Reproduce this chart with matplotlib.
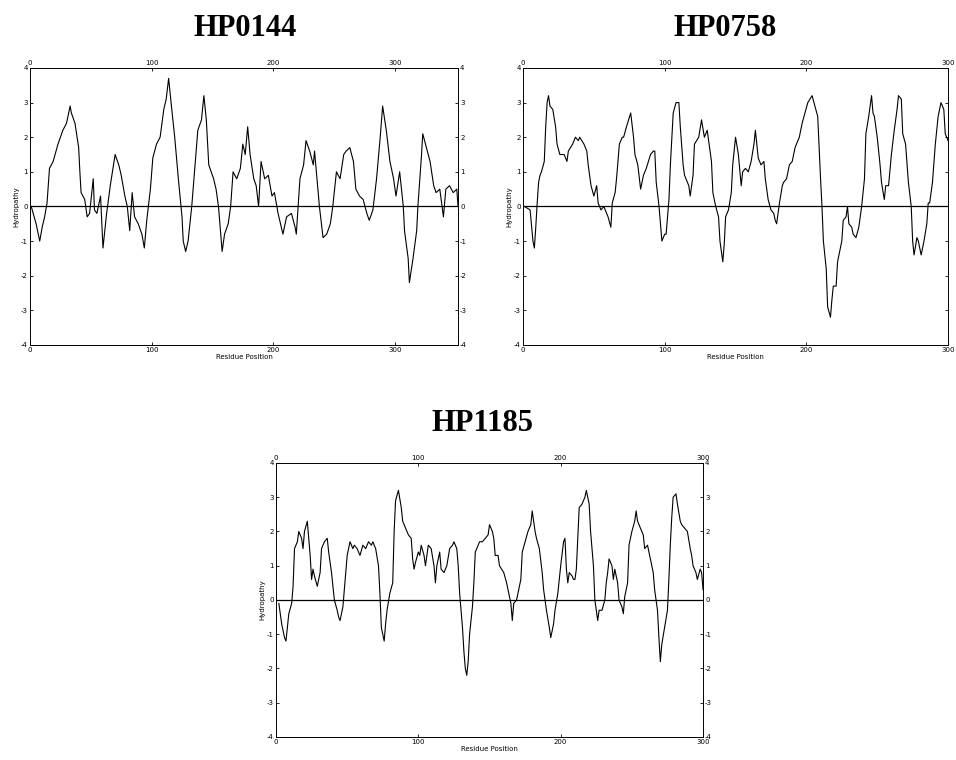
import numpy as np
import matplotlib
matplotlib.use("Agg")
import matplotlib.pyplot as plt

plt.rcParams['axes.unicode_minus'] = False

# HP0144 hydropathy profile (residue, value)
hp0144_res = [1, 5, 8, 10, 12, 14, 16, 19, 23, 27, 30, 33, 34, 37, 40, 41, 42, 45, 47, 49,
              52, 53, 55, 58, 60, 63, 66, 70, 73, 75, 78, 80, 82, 84, 86, 89, 92, 94, 96, 99,
              101, 104, 107, 110, 112, 114, 116, 119, 122, 125, 126, 128, 130, 133, 136, 138,
              141, 143, 145, 147, 151, 153, 155, 158, 160, 163, 165, 167, 170, 173, 175, 177,
              179, 181, 184, 186, 188, 190, 193, 196, 199, 201, 204, 208, 211, 215, 218, 219,
              222, 225, 227, 230, 233, 234, 236, 238, 241, 244, 247, 249, 252, 255, 258, 260,
              263, 266, 268, 271, 274, 277, 279, 282, 285, 288, 290, 293, 296, 299, 301, 304,
              307, 308, 311, 312, 315, 318, 319, 322, 323, 326, 329, 332, 334, 337, 340, 342,
              345, 348, 351, 352]
hp0144_val = [0.0, -0.5, -1.0, -0.6, -0.3, 0.1, 1.1, 1.3, 1.8, 2.2, 2.4, 2.9, 2.7, 2.4, 1.7, 1.0, 0.4, 0.2, -0.3, -0.2,
              0.8, -0.1, -0.2, 0.3, -1.2, -0.2, 0.6, 1.5, 1.2, 0.9, 0.3, 0.0, -0.7, 0.4, -0.3, -0.5, -0.8, -1.2, -0.4, 0.5,
              1.4, 1.8, 2.0, 2.8, 3.1, 3.7, 3.0, 2.0, 0.8, -0.3, -1.0, -1.3, -1.0, 0.0, 1.3, 2.2,
              2.5, 3.2, 2.5, 1.2, 0.8, 0.5, 0.0, -1.3, -0.8, -0.5, 0.0, 1.0, 0.8, 1.1, 1.8, 1.5,
              2.3, 1.5, 0.8, 0.6, 0.0, 1.3, 0.8, 0.9, 0.3, 0.4, -0.2, -0.8, -0.3, -0.2, -0.6, -0.8,
              0.8, 1.2, 1.9, 1.6, 1.2, 1.6, 0.8, 0.0, -0.9, -0.8, -0.5, 0.0, 1.0, 0.8, 1.5, 1.6,
              1.7, 1.3, 0.5, 0.3, 0.2, -0.2, -0.4, -0.1, 0.8, 2.0, 2.9, 2.2, 1.3, 0.8, 0.3, 1.0,
              0.0, -0.7, -1.5, -2.2, -1.5, -0.7, 0.0, 1.5, 2.1, 1.7, 1.3, 0.6, 0.4, 0.5, -0.3, 0.5,
              0.6, 0.4, 0.5, 0.0]

# HP0758
hp0758_res = [1, 5, 7, 8, 9, 10, 11, 12, 13, 15, 16, 17, 18, 19, 21, 23, 24, 26, 29, 31,
              32, 35, 37, 39, 40, 43, 45, 46, 48, 50, 52, 53, 55, 57, 59, 60, 62, 63, 65, 66,
              68, 70, 71, 73, 76, 78, 79, 81, 83, 85, 87, 90, 92, 93, 94, 96, 98, 100, 101, 103,
              104, 106, 108, 110, 111, 113, 114, 117, 118, 120, 121, 124, 126, 128, 130, 132, 133, 134,
              136, 138, 139, 141, 142, 143, 145, 147, 148, 150, 152, 154, 155, 157, 159, 161, 163,
              164, 166, 168, 170, 171, 173, 175, 177, 178, 179, 181, 183, 184, 186, 188, 190, 192,
              195, 197, 199, 201, 204, 206, 208, 210, 211, 212, 214, 215, 217, 218, 219, 221, 222,
              225, 226, 228, 229, 230, 232, 233, 235, 237, 239, 241, 242, 244, 246, 247, 248, 250,
              252, 253, 255, 256, 258, 260, 262, 264, 265, 267, 268, 270, 272, 274, 275, 276, 278,
              279, 281, 283, 285, 286, 287, 289, 291, 293, 295, 297, 298, 300]
hp0758_val = [0.0, -0.1, -1.0, -1.2, -0.6, 0.1, 0.7, 0.9, 1.0, 1.3, 2.3, 3.0, 3.2, 2.9, 2.8, 2.3, 1.8, 1.5, 1.5, 1.3,
              1.6, 1.8, 2.0, 1.9, 2.0, 1.8, 1.6, 1.2, 0.6, 0.3, 0.6, 0.1, -0.1, 0.0, -0.2, -0.3, -0.6, 0.1, 0.4, 0.8,
              1.8, 2.0, 2.0, 2.3, 2.7, 2.0, 1.5, 1.2, 0.5, 0.9, 1.1, 1.5, 1.6, 1.6, 0.7, 0.0, -1.0, -0.8, -0.8, 0.2,
              1.2, 2.7, 3.0, 3.0, 2.3, 1.2, 0.9, 0.6, 0.3, 0.9, 1.8, 2.0, 2.5, 2.0, 2.2, 1.6, 1.3, 0.4,
              0.0, -0.3, -1.0, -1.6, -1.1, -0.3, -0.1, 0.4, 1.2, 2.0, 1.5, 0.6, 1.0, 1.1, 1.0, 1.3, 1.8,
              2.2, 1.4, 1.2, 1.3, 0.8, 0.2, -0.1, -0.2, -0.4, -0.5, 0.1, 0.6, 0.7, 0.8, 1.2, 1.3, 1.7,
              2.0, 2.4, 2.7, 3.0, 3.2, 2.9, 2.6, 0.8, 0.0, -1.0, -1.8, -2.9, -3.2, -2.7, -2.3, -2.3, -1.6,
              -1.0, -0.4, -0.3, 0.0, -0.5, -0.6, -0.8, -0.9, -0.6, 0.0, 0.8, 2.1, 2.6, 3.2, 2.7, 2.6, 2.0,
              1.2, 0.7, 0.2, 0.6, 0.6, 1.5, 2.2, 2.8, 3.2, 3.1, 2.1, 1.8, 0.7, 0.0, -1.0, -1.4, -0.9,
              -1.0, -1.4, -1.0, -0.5, 0.1, 0.1, 0.7, 1.8, 2.6, 3.0, 2.8, 2.1, 1.9]

# HP1185
hp1185_res = [2, 4, 6, 7, 9, 11, 12, 13, 15, 16, 18, 19, 20, 22, 23, 24, 25, 26, 27, 29,
              31, 32, 34, 36, 37, 39, 41, 43, 44, 45, 47, 48, 50, 52, 54, 55, 57, 59, 61, 63,
              65, 67, 68, 70, 72, 73, 74, 76, 77, 78, 80, 82, 83, 84, 86, 88, 89, 91, 93, 95,
              96, 97, 98, 100, 101, 102, 104, 105, 107, 109, 111, 112, 113, 115, 116, 118, 120, 122,
              124, 125, 127, 128, 129, 131, 132, 133, 134, 135, 136, 138, 139, 140, 142, 143, 145,
              147, 149, 150, 152, 153, 154, 156, 157, 160, 162, 163, 165, 166, 167, 169, 172, 173,
              175, 177, 179, 180, 182, 183, 185, 187, 188, 190, 192, 193, 195, 196, 198, 200, 202,
              203, 204, 205, 206, 208, 209, 210, 211, 213, 215, 217, 218, 220, 221, 223, 224, 226,
              227, 229, 231, 232, 233, 234, 236, 237, 238, 240, 241, 242, 243, 244, 245, 247, 248,
              250, 252, 253, 254, 256, 258, 259, 261, 263, 265, 266, 268, 269, 270, 271, 273, 275,
              276, 277, 278, 279, 281, 282, 284, 285, 287, 289, 291, 292, 293, 295, 296, 298, 299, 300]
hp1185_val = [-0.1, -0.7, -1.1, -1.2, -0.4, -0.1, 0.4, 1.5, 1.7, 2.0, 1.8, 1.5, 2.0, 2.3, 1.8, 1.3, 0.6, 0.9, 0.7, 0.4,
              0.8, 1.5, 1.7, 1.8, 1.4, 0.8, 0.0, -0.3, -0.5, -0.6, -0.2, 0.3, 1.3, 1.7, 1.5, 1.6, 1.5, 1.3, 1.6, 1.5,
              1.7, 1.6, 1.7, 1.5, 1.0, 0.2, -0.8, -1.2, -0.7, -0.3, 0.2, 0.5, 2.0, 2.9, 3.2, 2.7, 2.3, 2.1, 1.9, 1.8,
              1.2, 0.9, 1.1, 1.4, 1.3, 1.6, 1.3, 1.0, 1.6, 1.5, 1.0, 0.5, 1.0, 1.4, 0.9, 0.8, 1.0, 1.5,
              1.6, 1.7, 1.5, 1.0, 0.2, -0.8, -1.5, -2.0, -2.2, -1.8, -1.0, -0.2, 0.5, 1.4, 1.6, 1.7, 1.7,
              1.8, 1.9, 2.2, 2.0, 1.8, 1.3, 1.3, 1.0, 0.8, 0.5, 0.3, -0.1, -0.6, -0.1, 0.0, 0.6, 1.4,
              1.7, 2.0, 2.2, 2.6, 2.0, 1.8, 1.5, 0.8, 0.3, -0.3, -0.8, -1.1, -0.7, -0.3, 0.2, 1.0, 1.7,
              1.8, 0.9, 0.5, 0.8, 0.7, 0.6, 0.6, 0.9, 2.7, 2.8, 3.0, 3.2, 2.8, 2.0, 1.0, 0.0, -0.6,
              -0.3, -0.3, 0.0, 0.5, 0.8, 1.2, 1.0, 0.6, 0.9, 0.5, 0.0, -0.1, -0.2, -0.4, 0.1, 0.5, 1.6,
              2.0, 2.3, 2.6, 2.3, 2.1, 1.9, 1.5, 1.6, 1.2, 0.8, 0.3, -0.3, -1.1, -1.8, -1.3, -0.8,
              -0.3, 0.6, 1.6, 2.4, 3.0, 3.1, 2.8, 2.3, 2.2, 2.1, 2.0, 1.5, 1.3, 1.0, 0.8, 0.6, 0.9, 0.8, 0.3]

# name, x data, y data, sequence length, axes rect, title position, right labels shown
panels = [
    ("HP0144", hp0144_res, hp0144_val, 352, [0.0314, 0.5461, 0.4477, 0.3645], (0.256, 0.962), True),
    ("HP0758", hp0758_res, hp0758_val, 300, [0.5471, 0.5461, 0.4446, 0.3645], (0.758, 0.962), False),
    ("HP1185", hp1185_res, hp1185_val, 300, [0.2887, 0.0303, 0.4467, 0.3605], (0.505, 0.443), True),
]

fig = plt.figure(figsize=(9.56, 7.6), dpi=100, facecolor='white')

for name, res, val, length, rect, title_pos, show_right in panels:
    ax = fig.add_axes(rect)
    ax.plot(res, val, color='black', linewidth=0.8)
    ax.axhline(0, color='black', linewidth=0.9)

    ax.set_xlim(0, length)
    ax.set_ylim(-4, 4)
    ax.set_xticks([0, 100, 200, 300])
    ax.set_yticks(range(-4, 5))
    ax.tick_params(axis='both', which='both', direction='in', length=2, width=0.6,
                   labelsize=5, pad=1.5, top=True, right=True,
                   labeltop=True, labelright=show_right)
    for sp in ax.spines.values():
        sp.set_linewidth(0.7)
    ax.set_xlabel("Residue Position", fontsize=5, labelpad=1)
    ax.set_ylabel("Hydropathy", fontsize=5, labelpad=1)

    fig.text(title_pos[0], title_pos[1], name, ha='center', va='center',
             fontsize=22, fontweight='bold', family='Liberation Serif')

fig.savefig("out.png", dpi=100, facecolor='white')
